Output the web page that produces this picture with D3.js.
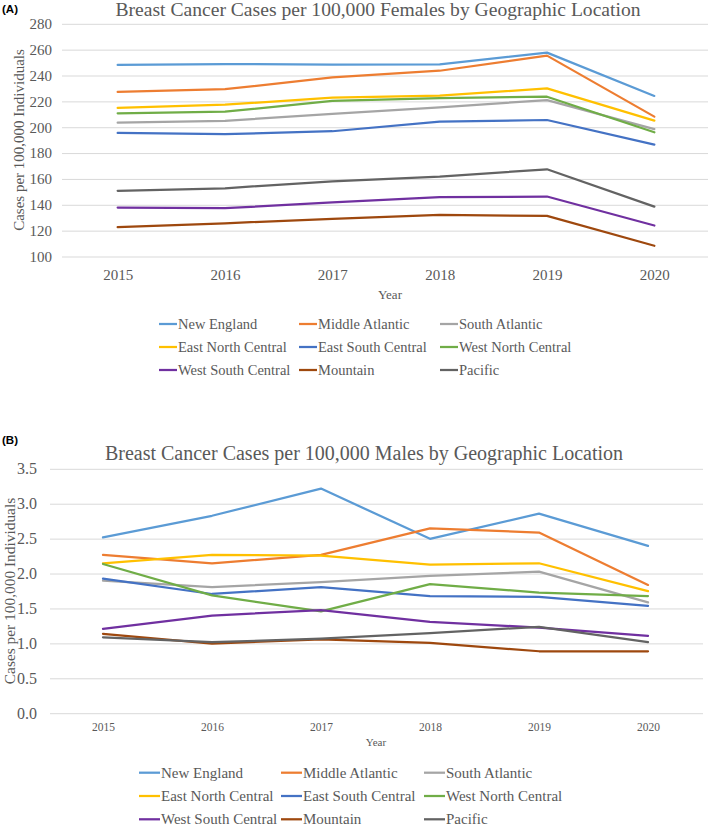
<!DOCTYPE html>
<html><head><meta charset="utf-8">
<script src="https://cdn.jsdelivr.net/npm/d3@7"></script>
<style>
body{margin:0;background:#fff}
svg{display:block}
text{font-family:"Liberation Serif","Times New Roman",serif;fill:#595959}
</style>
</head><body>
<svg id="chart" width="709" height="825"></svg>
<script>
// ---------- data ----------
const years = ["2015", "2016", "2017", "2018", "2019", "2020"];
const regions = ["New England", "Middle Atlantic", "South Atlantic", "East North Central",
  "East South Central", "West North Central", "West South Central", "Mountain", "Pacific"];
const regionColors = ["#5B9BD5", "#ED7D31", "#A5A5A5", "#FFC000", "#4472C4", "#70AD47", "#7030A0", "#9E480E", "#636363"];

const femaleTicks = [100, 120, 140, 160, 180, 200, 220, 240, 260, 280];
const maleTicks = [0, 0.5, 1.0, 1.5, 2.0, 2.5, 3.0, 3.5];

// Females, cases per 100,000
const femaleNewEngland       = [247.8, 248.5, 248.0, 248.3, 257.3, 223.8];
const femaleMiddleAtlantic   = [226.9, 229.0, 238.2, 243.3, 255.0, 207.8];
const femaleSouthAtlantic    = [203.1, 204.6, 210.0, 215.0, 220.6, 198.2];
const femaleEastNorthCentral = [214.5, 217.0, 222.5, 224.0, 229.7, 204.7];
const femaleEastSouthCentral = [195.2, 194.2, 196.5, 203.9, 205.2, 186.2];
const femaleWestNorthCentral = [210.4, 211.6, 220.0, 222.2, 223.2, 195.7];
const femaleWestSouthCentral = [137.5, 137.0, 141.4, 145.5, 146.0, 123.6];
const femaleMountain         = [122.3, 125.3, 128.8, 131.8, 131.0, 107.9];
const femalePacific          = [150.4, 152.4, 157.8, 161.4, 167.1, 138.2];

// Males, cases per 100,000
const maleNewEngland       = [2.51, 2.82, 3.21, 2.49, 2.85, 2.39];
const maleMiddleAtlantic   = [2.26, 2.14, 2.26, 2.64, 2.58, 1.83];
const maleSouthAtlantic    = [1.89, 1.80, 1.87, 1.96, 2.02, 1.58];
const maleEastNorthCentral = [2.14, 2.26, 2.25, 2.12, 2.14, 1.74];
const maleEastSouthCentral = [1.92, 1.70, 1.80, 1.67, 1.66, 1.53];
const maleWestNorthCentral = [2.13, 1.68, 1.45, 1.84, 1.72, 1.67];
const maleWestSouthCentral = [1.20, 1.39, 1.47, 1.30, 1.22, 1.10];
const maleMountain         = [1.13, 0.99, 1.05, 1.00, 0.88, 0.88];
const malePacific          = [1.08, 1.01, 1.06, 1.14, 1.23, 1.01];

const femaleSeries = [femaleNewEngland, femaleMiddleAtlantic, femaleSouthAtlantic, femaleEastNorthCentral,
  femaleEastSouthCentral, femaleWestNorthCentral, femaleWestSouthCentral, femaleMountain, femalePacific];
const maleSeries = [maleNewEngland, maleMiddleAtlantic, maleSouthAtlantic, maleEastNorthCentral,
  maleEastSouthCentral, maleWestNorthCentral, maleWestSouthCentral, maleMountain, malePacific];

// ---------- drawing ----------
const svg = d3.select("#chart");

function drawPanel(cfg) {
  const g = svg.append("g");

  const x = d3.scalePoint().domain(years).range([cfg.x0, cfg.x1]).padding(0.5);
  const y = d3.scaleLinear().domain([cfg.ticks[0], cfg.ticks[cfg.ticks.length - 1]])
    .range([cfg.yBottom, cfg.yTop]);

  // panel letter
  g.append("text").attr("x", 2).attr("y", cfg.letterY)
    .style("font-family", "'Liberation Sans', Arial, sans-serif")
    .style("font-weight", "bold").style("font-size", "11.5px").style("fill", "#000")
    .text(cfg.letter);

  // title
  g.append("text").attr("x", cfg.titleX).attr("y", cfg.titleY)
    .attr("text-anchor", "middle").style("font-size", cfg.titleSize + "px")
    .text(cfg.title);

  // y axis with gridlines
  const yAxis = d3.axisLeft(y).tickValues(cfg.ticks)
    .tickSize(-(cfg.gx1 - cfg.gx0)).tickPadding(cfg.yPad)
    .tickFormat(cfg.fmt);
  const ya = g.append("g").attr("transform", `translate(${cfg.gx0},0.5)`).call(yAxis);
  ya.select(".domain").remove();
  ya.selectAll(".tick line").attr("stroke", "#D9D9D9").attr("stroke-width", 1);
  ya.selectAll(".tick text").style("font-size", cfg.yTickSize + "px")
    .style("font-family", "'Liberation Serif','Times New Roman',serif").attr("fill", "#595959");

  // x axis labels
  const xAxis = d3.axisBottom(x).tickSize(0).tickPadding(0);
  const xa = g.append("g").attr("transform", `translate(0,${cfg.xLabelY})`).call(xAxis);
  xa.select(".domain").remove();
  xa.selectAll(".tick text").attr("dy", null).attr("y", 0)
    .style("font-size", cfg.xTickSize + "px")
    .style("font-family", "'Liberation Serif','Times New Roman',serif").attr("fill", "#595959");

  // axis titles
  g.append("text").attr("x", cfg.xTitleX).attr("y", cfg.xTitleY)
    .attr("text-anchor", "middle").style("font-size", cfg.xTitleSize + "px").text("Year");
  g.append("text")
    .attr("transform", `translate(${cfg.yTitleX},${cfg.yTitleY}) rotate(-90)`)
    .attr("text-anchor", "middle").attr("dy", "0.35em")
    .style("font-size", cfg.yTitleSize + "px").text("Cases per 100,000 Individuals");

  // lines
  const line = d3.line().x((d, i) => x(years[i])).y(d => y(d));
  g.append("g").selectAll("path").data(cfg.series).join("path")
    .attr("d", line).attr("fill", "none")
    .attr("stroke", (d, i) => regionColors[i])
    .attr("stroke-width", 2.25).attr("stroke-linejoin", "round").attr("stroke-linecap", "round");

  // legend
  const lg = g.append("g");
  const items = lg.selectAll("g").data(regions).join("g")
    .attr("transform", (d, i) => `translate(${cfg.legCols[i % 3]},${cfg.legRows[Math.floor(i / 3)]})`);
  items.append("line").attr("x1", -cfg.swatch - 1).attr("x2", -1).attr("y1", 0).attr("y2", 0)
    .attr("stroke", (d, i) => regionColors[i]).attr("stroke-width", 2.25);
  items.append("text").attr("x", 0).attr("dy", "0.33em")
    .style("font-size", cfg.legSize + "px").text(d => d);
}

drawPanel({
  letter: "(A)", letterY: 12.5,
  title: "Breast Cancer Cases per 100,000 Females by Geographic Location",
  titleX: 378, titleY: 16, titleSize: 19.6,
  ticks: femaleTicks, fmt: d3.format("d"),
  series: femaleSeries,
  x0: 64, x1: 708, gx0: 62, gx1: 708,
  yTop: 23.3, yBottom: 256,
  yPad: 10, yTickSize: 15,
  xLabelY: 279.5, xTickSize: 15,
  xTitleX: 390, xTitleY: 299, xTitleSize: 13,
  yTitleX: 18.5, yTitleY: 140, yTitleSize: 15,
  legCols: [178, 318, 459], legRows: [324, 347, 370], swatch: 18, legSize: 14.5
});

drawPanel({
  letter: "(B)", letterY: 444,
  title: "Breast Cancer Cases per 100,000 Males by Geographic Location",
  titleX: 364, titleY: 460, titleSize: 20,
  ticks: maleTicks, fmt: d3.format(".1f"),
  series: maleSeries,
  x0: 48.5, x1: 702.5, gx0: 50, gx1: 703,
  yTop: 468.3, yBottom: 712.7,
  yPad: 13, yTickSize: 16,
  xLabelY: 730.7, xTickSize: 11.5,
  xTitleX: 376, xTitleY: 746, xTitleSize: 11,
  yTitleX: 9.5, yTitleY: 591, yTitleSize: 15.4,
  legCols: [161, 303, 446], legRows: [772.7, 796, 819.3], swatch: 21, legSize: 15
});
</script>
</body></html>
